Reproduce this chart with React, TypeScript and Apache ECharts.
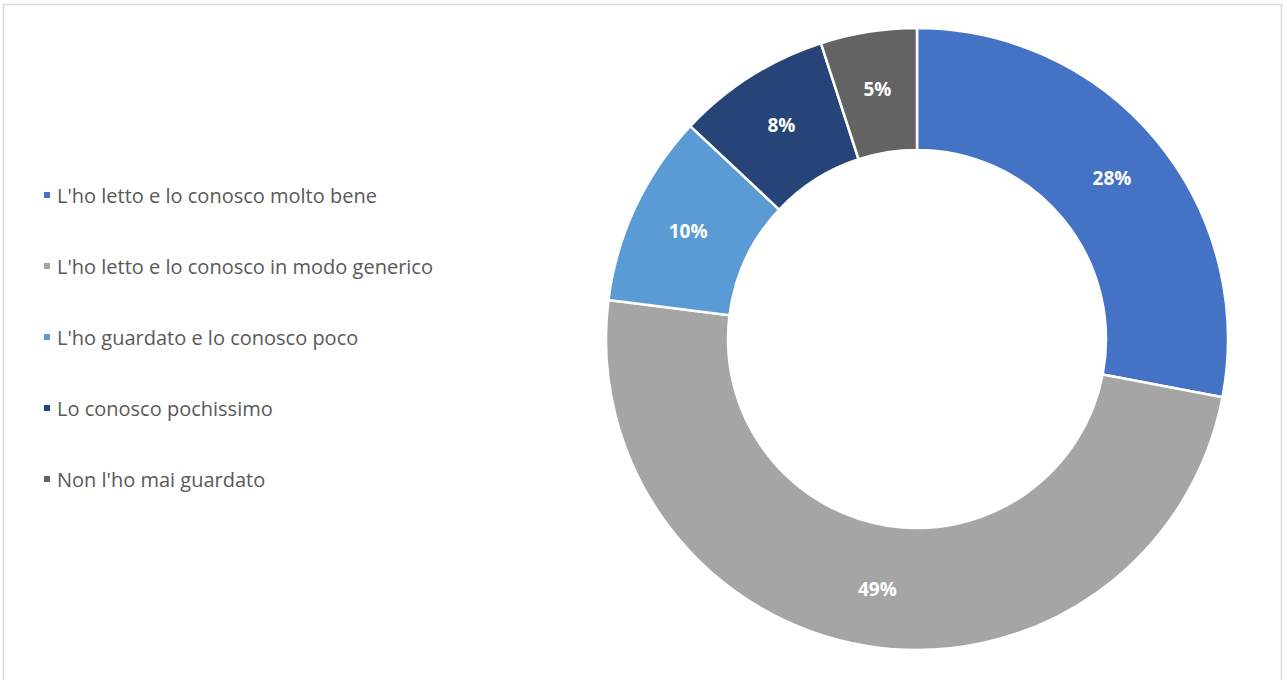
import React, { useEffect, useRef } from "react";
import * as echarts from "echarts";

const categories = [
  "L'ho letto e lo conosco molto bene",
  "L'ho letto e lo conosco in modo generico",
  "L'ho guardato e lo conosco poco",
  "Lo conosco pochissimo",
  "Non l'ho mai guardato",
];
const values = [28, 49, 10, 8, 5];
const colors = ["#4472C4", "#A5A5A5", "#5B9BD5", "#264478", "#636363"];

export default function App() {
  const ref = useRef<HTMLDivElement>(null);
  useEffect(() => {
    const chart = echarts.init(ref.current!, null, { renderer: "svg" });
    chart.setOption({
      animation: false,
      backgroundColor: "#ffffff",
      color: colors,
      graphic: [
        {
          type: "rect",
          shape: { x: 3.5, y: 4.5, width: 1278, height: 700 },
          style: { fill: "none", stroke: "#d9d9d9", lineWidth: 1.5 },
          silent: true,
        },
      ],
      legend: {
        orient: "vertical",
        left: 37,
        top: 180,
        itemGap: 51,
        itemWidth: 8,
        itemHeight: 8,
        icon: "rect",
        textStyle: {
          fontFamily: "Open Sans",
          fontSize: 20,
          lineHeight: 20,
          color: "#595959",
          padding: [0, 0, 0, 1],
        },
        data: categories,
      },
      series: [
        {
          type: "pie",
          center: [917, 339],
          radius: [189, 311],
          startAngle: 90,
          clockwise: true,
          avoidLabelOverlap: false,
          itemStyle: { borderColor: "#ffffff", borderWidth: 2.5 },
          label: {
            show: true,
            position: "inside",
            formatter: "{c}%",
            color: "#ffffff",
            fontFamily: "Open Sans",
            fontSize: 19,
            fontWeight: "bold",
          },
          labelLine: { show: false },
          emphasis: { disabled: true },
          data: categories.map((name, i) => ({ name, value: values[i] })),
        },
      ],
    });
    return () => chart.dispose();
  }, []);
  return (
    <div
      ref={ref}
      style={{ position: "absolute", left: 0, top: 0, width: 1287, height: 680 }}
    />
  );
}
